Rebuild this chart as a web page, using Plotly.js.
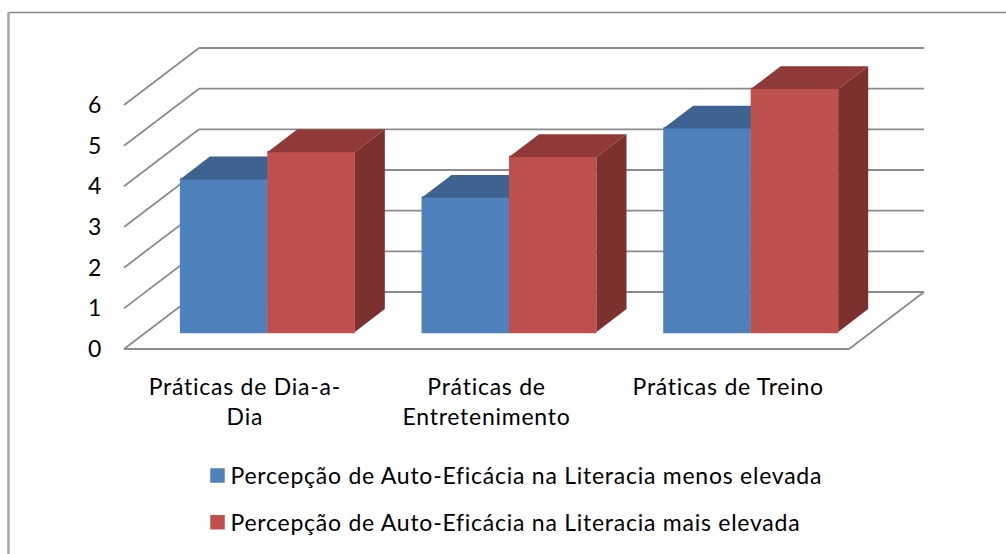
<!DOCTYPE html>
<html><head><meta charset="utf-8">
<script src="https://cdn.plot.ly/plotly-3.0.1.min.js"></script>
<style>html,body{margin:0;padding:0;background:#fff}
.xtick text,.ytick text,.legendtext{letter-spacing:.75px}
.legendsymbols{transform:translateX(7px)}
</style></head>
<body><div id="chart" style="width:1006px;height:554px"></div>
<script>
const categories = ["Práticas de Dia-a-<br>Dia", "Práticas de<br>Entretenimento", "Práticas de Treino"];
const positions = [1, 2, 3];
const seriesLowName = "Percepção de Auto-Eficácia na Literacia menos elevada";
const seriesHighName = "Percepção de Auto-Eficácia na Literacia mais elevada";
const seriesLow = [3.75, 3.3, 5.0];
const seriesHigh = [4.42, 4.3, 5.97];
const yTicks = [0, 1, 2, 3, 4, 5, 6];

// oblique projection of depth, in axis units
const DX = 0.3103, DY = 1.4015;      // full floor depth
const ZF = 0.30, ZB = 0.70;          // bar front / back position in depth
const BW = 0.362;                    // bar width
const xEnd = 3.5;                    // right end of front floor
const blue = "#4F81BD", blueTop = "#3E6390", blueSide = "#3A5C86";
const red = "#C0504D", redTop = "#8F3A38", redSide = "#7D312F";
const gridColor = "#8C8C8C";

function seg(x0, y0, x1, y1) {
  return {type: "line", xref: "x", yref: "y", layer: "below", x0, y0, x1, y1,
          line: {color: gridColor, width: 1.8}};
}
const shapes = [];
yTicks.forEach(v => {
  shapes.push(seg(0.5, v, 0.5 + DX, v + DY));
  shapes.push(seg(0.5 + DX, v + DY, xEnd + DX, v + DY));
});
shapes.push(seg(0.5, 0, xEnd, 0));
shapes.push(seg(xEnd, 0, xEnd + DX, DY));
// chart frame: top and left edges only
shapes.push({type: "line", xref: "paper", yref: "paper", layer: "below",
  x0: -0.1377, x1: 1.2, y0: 1.102, y1: 1.102, line: {color: "#868686", width: 1.5}});
shapes.push({type: "line", xref: "paper", yref: "paper", layer: "below",
  x0: -0.1377, x1: -0.1377, y0: -1.2, y1: 1.102, line: {color: "#A6A6A6", width: 2.5}});

function faces(values, side, topColor, sideColor, xa, ya) {
  const out = [];
  const d = (ZB - ZF);
  values.forEach((v, i) => {
    const xl = positions[i] + ZF * DX + side * BW;
    const xr = xl + BW;
    const b = ZF * DY, t = b + v;
    out.push({type: "scatter", mode: "lines", fill: "toself", fillcolor: topColor, showlegend: false,
      hoverinfo: "skip", line: {width: 0, color: topColor}, xaxis: xa, yaxis: ya,
      x: [xl, xr, xr + d * DX, xl + d * DX, xl], y: [t, t, t + d * DY, t + d * DY, t]});
    out.push({type: "scatter", mode: "lines", fill: "toself", fillcolor: sideColor, showlegend: false,
      hoverinfo: "skip", line: {width: 0, color: sideColor}, xaxis: xa, yaxis: ya,
      x: [xr, xr + d * DX, xr + d * DX, xr, xr], y: [b, b + d * DY, t + d * DY, t, b]});
  });
  return out;
}
function front(values, side, color, name, xa, ya, group) {
  return {type: "bar", name, x: positions.map(p => p + ZF * DX + side * BW + BW / 2), y: values,
    base: values.map(() => ZF * DY), width: BW - 0.0103, xaxis: xa, yaxis: ya, legendgroup: group,
    marker: {color, line: {color, width: 2.5}}};
}
const traces = [
  front(seriesLow, -1, blue, seriesLowName, "x", "y", "a"),
  ...faces(seriesLow, -1, blueTop, blueSide, "x", "y"),
  front(seriesHigh, 0, red, seriesHighName, "x2", "y2", "b"),
  ...faces(seriesHigh, 0, redTop, redSide, "x2", "y2")
];
const xRange = [0.4834, 3.835], yRange = [-0.098, 7.5];
const font = {family: "Lato, 'Open Sans', sans-serif", size: 23, color: "#000"};
const layout = {
  width: 1006, height: 554, margin: {l: 120, r: 76, t: 44, b: 201, pad: 0, autoexpand: false},
  paper_bgcolor: "#fff", plot_bgcolor: "rgba(0,0,0,0)", barmode: "overlay", font,
  xaxis: {range: xRange, tickvals: positions, ticktext: categories, showgrid: false, zeroline: false,
    showline: false, ticks: "", tickangle: 0, ticklabelstandoff: 18, tickfont: font, fixedrange: true},
  yaxis: {range: yRange, tickvals: yTicks, showgrid: false, zeroline: false, showline: false,
    ticks: "", ticklabelstandoff: 17, tickfont: font, fixedrange: true},
  xaxis2: {range: xRange, overlaying: "x", visible: false, fixedrange: true},
  yaxis2: {range: yRange, overlaying: "y", visible: false, fixedrange: true},
  showlegend: true,
  legend: {xref: "container", yref: "container", x: 190.5 / 1006, y: 1 - 454 / 554, xanchor: "left", yanchor: "top",
    font, tracegroupgap: 14, itemwidth: 30, traceorder: "grouped", bgcolor: "rgba(0,0,0,0)"},
  shapes
};
Plotly.newPlot("chart", traces, layout, {staticPlot: true, displayModeBar: false});
</script></body></html>
